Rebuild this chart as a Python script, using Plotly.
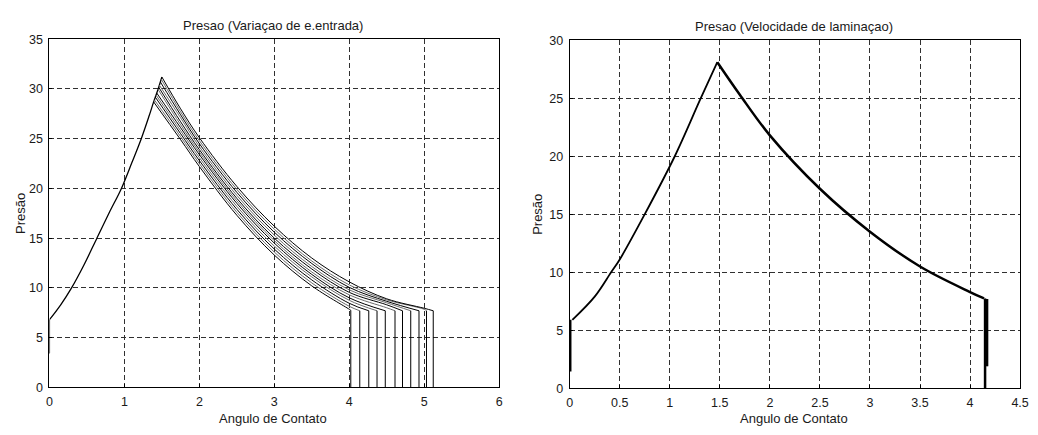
import plotly.graph_objects as go

# ---------------- Left chart data: Presao (Variaçao de e.entrada) ----------------
left_start_x = [0.0, 0.0]
left_start_y = [3.4, 6.8]
left_rise_x = [0.0, 0.15, 0.295, 0.46, 0.633, 0.80, 0.96, 1.10, 1.225, 1.33, 1.39, 1.45, 1.50]
left_rise_y = [6.8, 8.3, 10.0, 12.3, 15.0, 17.6, 20.0, 22.6, 25.0, 27.3, 28.7, 30.0, 31.2]

left_peak_x = [1.39, 1.40, 1.41, 1.42, 1.43, 1.445, 1.455, 1.465, 1.48, 1.49, 1.50]
left_peak_y = [28.7, 28.9, 29.2, 29.4, 29.6, 30.0, 30.2, 30.4, 30.7, 31.0, 31.2]
left_end_x = [4.02, 4.14, 4.26, 4.37, 4.48, 4.61, 4.71, 4.82, 4.93, 5.03, 5.12]
left_end_y = [7.75, 7.7, 7.7, 7.7, 7.7, 7.7, 7.7, 7.7, 7.7, 7.7, 7.7]
left_desc_x = [1.75, 2.0, 2.5, 3.0, 3.5, 4.0, 4.5, 5.0]
left_desc_y = [
    [24.9, 22.2, 17.3, 13.3, 10.2, 7.85],
    [25.2, 22.5, 17.6, 13.6, 10.5, 8.15],
    [25.5, 22.8, 17.9, 13.9, 10.8, 8.45],
    [25.8, 23.1, 18.2, 14.2, 11.1, 8.75],
    [26.1, 23.4, 18.5, 14.5, 11.35, 9.0],
    [26.4, 23.65, 18.75, 14.75, 11.6, 9.3, 8.0],
    [26.7, 23.9, 19.0, 15.0, 11.9, 9.55, 8.3],
    [27.1, 24.2, 19.3, 15.3, 12.15, 9.8, 8.5],
    [27.4, 24.5, 19.6, 15.6, 12.45, 10.05, 8.65],
    [27.7, 24.8, 19.9, 15.9, 12.7, 10.3, 8.8, 7.85],
    [28.0, 25.1, 20.2, 16.2, 13.0, 10.6, 8.9, 7.95],
]
left_colors = ["#000000", "#6a6a6a"]

# ---------------- Right chart data: Presao (Velocidade de laminaçao) ----------------
right_start_x = [0.01, 0.01]
right_start_y = [1.45, 5.9]
right_rise_x = [0.027, 0.25, 0.414, 0.5, 0.75, 1.05, 1.31, 1.475]
right_rise_y = [5.9, 7.9, 10.0, 11.1, 15.0, 20.0, 25.0, 28.1]
right_desc_x = [1.475, 1.70, 2.0, 2.5, 3.0, 3.5, 4.0, 4.14]
right_desc_y = [28.1, 25.3, 21.8, 17.2, 13.5, 10.5, 8.3, 7.75]
right_drop_x = [4.145, 4.155, 4.165, 4.175]
right_drop_top = [7.75, 7.75, 7.7, 7.7]
right_drop_bottom = [0.0, 0.0, 1.9, 1.9]

FONT = "Liberation Sans, Arial, sans-serif"
TXT = "#1a1a1a"

fig = go.Figure()

# left chart
fig.add_trace(go.Scatter(x=left_start_x, y=left_start_y, mode="lines",
                         line=dict(color="#000", width=1.2), xaxis="x", yaxis="y"))
fig.add_trace(go.Scatter(x=left_rise_x, y=left_rise_y, mode="lines",
                         line=dict(color="#000", width=1.3, shape="spline", smoothing=1.0),
                         xaxis="x", yaxis="y"))
drop_x, drop_y = [], []
for i in range(len(left_peak_x)):
    n = len(left_desc_y[i])
    xs = [left_peak_x[i]] + left_desc_x[:n] + [left_end_x[i]]
    ys = [left_peak_y[i]] + left_desc_y[i] + [left_end_y[i]]
    fig.add_trace(go.Scatter(x=xs, y=ys, mode="lines",
                             line=dict(color=left_colors[i % 2], width=1,
                                       shape="spline", smoothing=1.0),
                             xaxis="x", yaxis="y"))
    drop_x += [left_end_x[i], left_end_x[i], None]
    drop_y += [left_end_y[i], 0, None]
fig.add_trace(go.Scatter(x=drop_x, y=drop_y, mode="lines",
                         line=dict(color="#000", width=1), xaxis="x", yaxis="y"))

# right chart
fig.add_trace(go.Scatter(x=right_start_x, y=right_start_y, mode="lines",
                         line=dict(color="#000", width=1.6), xaxis="x2", yaxis="y2"))
fig.add_trace(go.Scatter(x=right_rise_x, y=right_rise_y, mode="lines",
                         line=dict(color="#000", width=1.8, shape="spline", smoothing=1.0),
                         xaxis="x2", yaxis="y2"))
fig.add_trace(go.Scatter(x=right_desc_x, y=right_desc_y, mode="lines",
                         line=dict(color="#000", width=2.5, shape="spline", smoothing=1.0),
                         xaxis="x2", yaxis="y2"))
rdx, rdy = [], []
for i in range(len(right_drop_x)):
    rdx += [right_drop_x[i], right_drop_x[i], None]
    rdy += [right_drop_top[i], right_drop_bottom[i], None]
fig.add_trace(go.Scatter(x=rdx, y=rdy, mode="lines",
                         line=dict(color="#000", width=1.5), xaxis="x2", yaxis="y2"))

axis_common = dict(
    showline=True, linecolor="#000", linewidth=1, mirror=True,
    showgrid=True, gridcolor="#303030", gridwidth=1, griddash="5px,3px",
    zeroline=False, ticks="inside", ticklen=3, tickcolor="#000",
    tickfont=dict(family=FONT, size=12.5, color=TXT), ticklabelstandoff=3,
)

fig.update_layout(
    width=1038, height=435,
    margin=dict(l=0, r=0, t=0, b=0),
    paper_bgcolor="white", plot_bgcolor="white",
    showlegend=False,
    xaxis=dict(domain=[47 / 1038, 502 / 1038], range=[0, 6], dtick=1, anchor="y", **axis_common),
    yaxis=dict(domain=[1 - 393 / 435, 1 - 33.3 / 435], range=[0, 35], dtick=5, anchor="x", **axis_common),
    xaxis2=dict(domain=[573.3 / 1038, 1029 / 1038], range=[0, 4.5], dtick=0.5, anchor="y2", **axis_common),
    yaxis2=dict(domain=[1 - 394 / 435, 1 - 34.3 / 435], range=[0, 30], dtick=5, anchor="x2", **axis_common),
)

ann_font = dict(family=FONT, size=13, color=TXT)
annotations = [
    dict(text="Presao (Variaçao de e.entrada)", x=273 / 1038, y=1 - 19 / 435),
    dict(text="Presao (Velocidade de laminaçao)", x=800 / 1038, y=1 - 20 / 435),
    dict(text="Angulo de Contato", x=273 / 1038, y=1 - 425 / 435),
    dict(text="Angulo de Contato", x=800 / 1038, y=1 - 425 / 435),
    dict(text="Presão", x=17 / 1038, y=1 - 213 / 435, textangle=-90),
    dict(text="Presão", x=540 / 1038, y=1 - 214 / 435, textangle=-90),
]
for a in annotations:
    a.update(xref="paper", yref="paper", xanchor="center", yanchor="middle",
             showarrow=False, font=ann_font)
fig.update_layout(annotations=annotations)

fig.write_html("out.html")
